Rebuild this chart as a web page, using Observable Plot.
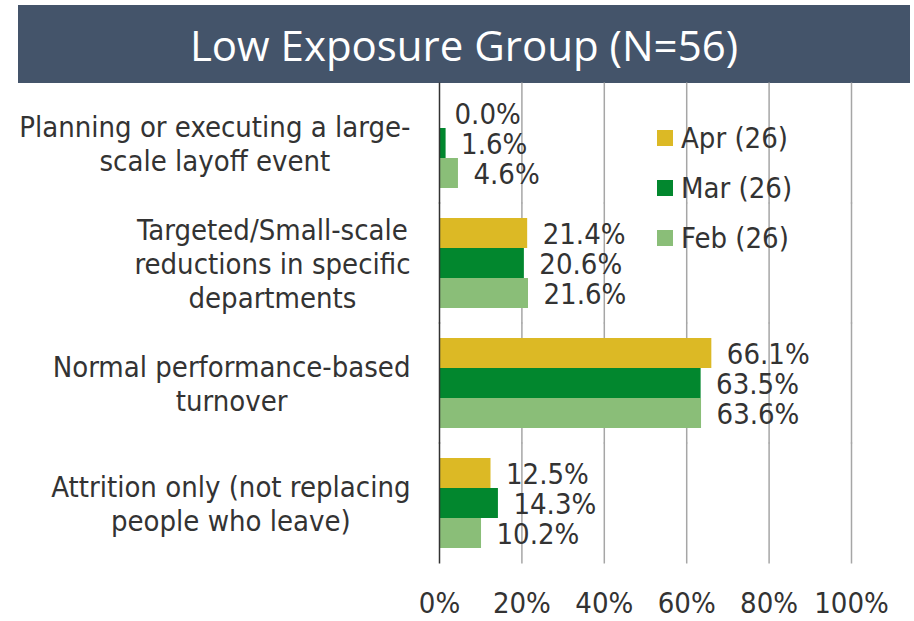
<!DOCTYPE html>
<html>
<head>
<meta charset="utf-8">
<script src="https://cdn.jsdelivr.net/npm/d3@7"></script>
<script src="https://cdn.jsdelivr.net/npm/@observablehq/plot@0.6"></script>
<style>
  html, body { margin: 0; padding: 0; background: #fff; }
  body { width: 914px; height: 621px; overflow: hidden; position: relative;
         font-family: "DejaVu Sans Condensed", "DejaVu Sans", sans-serif; color: #333; }
  #title { position: absolute; left: 18px; top: 5px; width: 892px; height: 78px;
           background: #44546A; color: #fff; font-family: "Open Sans", sans-serif;
           font-size: 42px; display: flex; align-items: center; justify-content: center; }
  #chart { position: absolute; left: 0; top: 83px; }
  #legend { position: absolute; left: 657px; top: 113px; }
  .row { display: flex; align-items: center; height: 50px; font-size: 29px; color: #333; }
  .sw { width: 16px; height: 16px; margin-right: 8px; flex: none; }
</style>
</head>
<body>
<div id="title">Low Exposure Group (N=56)</div>
<div id="chart"></div>
<div id="legend"></div>
<script>
const categories = [
  "Planning or executing a large-\nscale layoff event",
  "Targeted/Small-scale\nreductions in specific\ndepartments",
  "Normal performance-based\nturnover",
  "Attrition only (not replacing\npeople who leave)"
];
const series = ["Apr (26)", "Mar (26)", "Feb (26)"];
const aprValues = [0.0, 21.4, 66.1, 12.5];
const marValues = [1.6, 20.6, 63.5, 14.3];
const febValues = [4.6, 21.6, 63.6, 10.2];
const seriesColors = ["#DCB925", "#02872E", "#8ABE78"];
const xTicks = [0, 20, 40, 60, 80, 100];

const valuesBySeries = [aprValues, marValues, febValues];
const rows = [];
categories.forEach((c, i) => series.forEach((s, j) => rows.push({category: c, series: s, value: valuesBySeries[j][i]})));

const FONT = '"DejaVu Sans Condensed", "DejaVu Sans", sans-serif';
const FS = 29;
const ctx = document.createElement("canvas").getContext("2d");
ctx.font = `${FS}px ${FONT}`;
const blockWidth = (label) => Math.max(...label.split("\n").map(l => ctx.measureText(l).width));

const labelMarks = categories.map(c => Plot.text([c], {
  fy: d => d, text: d => d, frameAnchor: "left", textAnchor: "middle",
  dx: -29 - blockWidth(c) / 2, lineHeight: 1.17, fontSize: FS, fill: "#333"
}));

const chart = Plot.plot({
  width: 914, height: 538,
  marginLeft: 439, marginRight: 63, marginTop: 0, marginBottom: 58,
  style: {fontFamily: FONT, color: "#333", background: "transparent", overflow: "visible"},
  x: {domain: [0, 100], axis: null},
  y: {domain: series, axis: null, padding: 0},
  fy: {domain: categories, axis: null, paddingInner: 0.25, paddingOuter: 0.125},
  color: {domain: series, range: seriesColors},
  marks: [
    Plot.ruleX(xTicks.slice(1), {stroke: "#A6A6A6", strokeWidth: 1.5, insetTop: -15.5, insetBottom: -15.5}),
    Plot.barX(rows, {x: "value", y: "series", fy: "category", fill: "series"}),
    Plot.ruleX([0], {stroke: "#333", strokeWidth: 1.5, insetTop: -15.5, insetBottom: -15.5}),
    Plot.text(rows, {x: "value", y: "series", fy: "category", text: d => d.value.toFixed(1) + "%",
      textAnchor: "start", dx: 15, dy: 1, fontSize: FS, fill: "#333"}),
    ...labelMarks,
    Plot.text(xTicks, {x: d => d, text: d => d + "%", facetAnchor: "bottom", frameAnchor: "bottom",
      lineAnchor: "top", dy: 44, fontSize: FS, fill: "#333"})
  ]
});
document.getElementById("chart").appendChild(chart);

const legend = document.getElementById("legend");
series.forEach((s, i) => {
  const row = document.createElement("div");
  row.className = "row";
  const sw = document.createElement("div");
  sw.className = "sw";
  sw.style.background = seriesColors[i];
  const t = document.createElement("span");
  t.textContent = s;
  row.appendChild(sw); row.appendChild(t);
  legend.appendChild(row);
});
</script>
</body>
</html>
